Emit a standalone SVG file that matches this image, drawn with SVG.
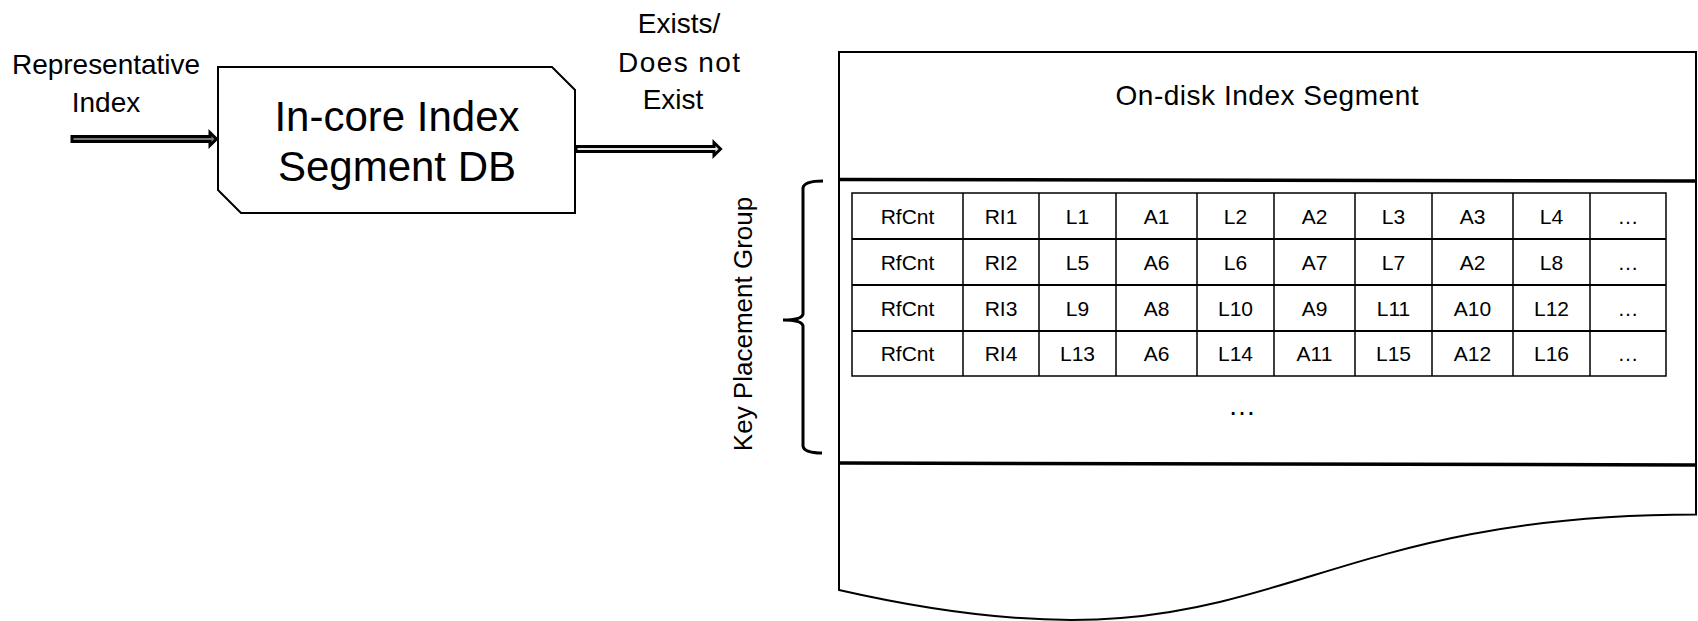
<svg xmlns="http://www.w3.org/2000/svg" width="1698" height="621" viewBox="0 0 1698 621">
<style>
.gill{font-family:"Liberation Sans",Arial,sans-serif;font-size:28px;fill:#000;text-anchor:middle}
.big{font-family:"Liberation Sans",Arial,sans-serif;font-size:42px;fill:#000;text-anchor:middle}
.cell{font-family:"Liberation Sans",Arial,sans-serif;font-size:21px;fill:#000;text-anchor:middle}
.grid{stroke:#000;stroke-width:1.5;fill:none}
.ol{stroke:#000;stroke-width:2;fill:#fff}
.thick{stroke:#000;stroke-width:3.5;fill:none}
.arrow{stroke:#000;stroke-width:3;stroke-linejoin:miter}
</style>
<rect width="1698" height="621" fill="#fff"/>

<g id="label-representative">
<text class="gill" x="106" y="74" textLength="188">Representative</text>
<text class="gill" x="106" y="112">Index</text>
</g>

<g id="incore-db">
<path class="ol" d="M218,67 H552 L575,90 V213 H241 L218,190 Z"/>
<text class="big" x="397" y="131">In-core Index</text>
<text class="big" x="397" y="181">Segment DB</text>
</g>

<g id="label-exists">
<text class="gill" x="679" y="33">Exists/</text>
<text class="gill" x="679" y="72" textLength="122">Does not</text>
<text class="gill" x="673" y="109">Exist</text>
</g>

<g id="connectors">
<path class="arrow" fill="#777" d="M72,136.5 H210 V132.5 L216.5,139 L210,145.5 V141.5 H72 Z"/>
<path class="arrow" fill="#e6e6e6" d="M576,146.5 H714 V142.5 L720.5,149 L714,155.5 V151.5 H576 Z"/>
</g>

<g id="ondisk-segment">
<path class="ol" d="M839,52 H1696 V514.6 C1268,514.6 1268,688 839,590 Z"/>
<line class="thick" x1="840" y1="179.5" x2="1696" y2="181"/>
<line class="thick" x1="840" y1="463" x2="1696" y2="465"/>
<text class="gill" x="1267" y="105" textLength="303">On-disk Index Segment</text>
<text class="gill" x="1242" y="415">…</text>
</g>

<g id="key-placement-group">
<path d="M823,181 Q804,181 803,188 V314 Q802,320 783,320 Q802,320 803,326 V446 Q804,453 822,453" fill="none" stroke="#000" stroke-width="3"/>
<text class="cell" style="font-size:26px" transform="translate(752,324) rotate(-90)">Key Placement Group</text>
</g>

<g id="table">
<rect class="grid" x="852" y="193" width="814" height="183"/>
<path class="grid" d="M963,193V376M1039,193V376M1116,193V376M1197,193V376M1274,193V376M1355,193V376M1432,193V376M1513,193V376M1590,193V376"/>
<path stroke="#000" stroke-width="2.2" fill="none" d="M852,239H1666M852,285H1666M852,331H1666"/>
<g id="row1">
<text class="cell" x="907.5" y="223.5">RfCnt</text><text class="cell" x="1001" y="223.5">RI1</text><text class="cell" x="1077.5" y="223.5">L1</text><text class="cell" x="1156.5" y="223.5">A1</text><text class="cell" x="1235.5" y="223.5">L2</text><text class="cell" x="1314.5" y="223.5">A2</text><text class="cell" x="1393.5" y="223.5">L3</text><text class="cell" x="1472.5" y="223.5">A3</text><text class="cell" x="1551.5" y="223.5">L4</text><text class="cell" x="1628" y="223.5">…</text>
</g>
<g id="row2">
<text class="cell" x="907.5" y="269.5">RfCnt</text><text class="cell" x="1001" y="269.5">RI2</text><text class="cell" x="1077.5" y="269.5">L5</text><text class="cell" x="1156.5" y="269.5">A6</text><text class="cell" x="1235.5" y="269.5">L6</text><text class="cell" x="1314.5" y="269.5">A7</text><text class="cell" x="1393.5" y="269.5">L7</text><text class="cell" x="1472.5" y="269.5">A2</text><text class="cell" x="1551.5" y="269.5">L8</text><text class="cell" x="1628" y="269.5">…</text>
</g>
<g id="row3">
<text class="cell" x="907.5" y="315.5">RfCnt</text><text class="cell" x="1001" y="315.5">RI3</text><text class="cell" x="1077.5" y="315.5">L9</text><text class="cell" x="1156.5" y="315.5">A8</text><text class="cell" x="1235.5" y="315.5">L10</text><text class="cell" x="1314.5" y="315.5">A9</text><text class="cell" x="1393.5" y="315.5">L11</text><text class="cell" x="1472.5" y="315.5">A10</text><text class="cell" x="1551.5" y="315.5">L12</text><text class="cell" x="1628" y="315.5">…</text>
</g>
<g id="row4">
<text class="cell" x="907.5" y="361">RfCnt</text><text class="cell" x="1001" y="361">RI4</text><text class="cell" x="1077.5" y="361">L13</text><text class="cell" x="1156.5" y="361">A6</text><text class="cell" x="1235.5" y="361">L14</text><text class="cell" x="1314.5" y="361">A11</text><text class="cell" x="1393.5" y="361">L15</text><text class="cell" x="1472.5" y="361">A12</text><text class="cell" x="1551.5" y="361">L16</text><text class="cell" x="1628" y="361">…</text>
</g>
</g>
</svg>
